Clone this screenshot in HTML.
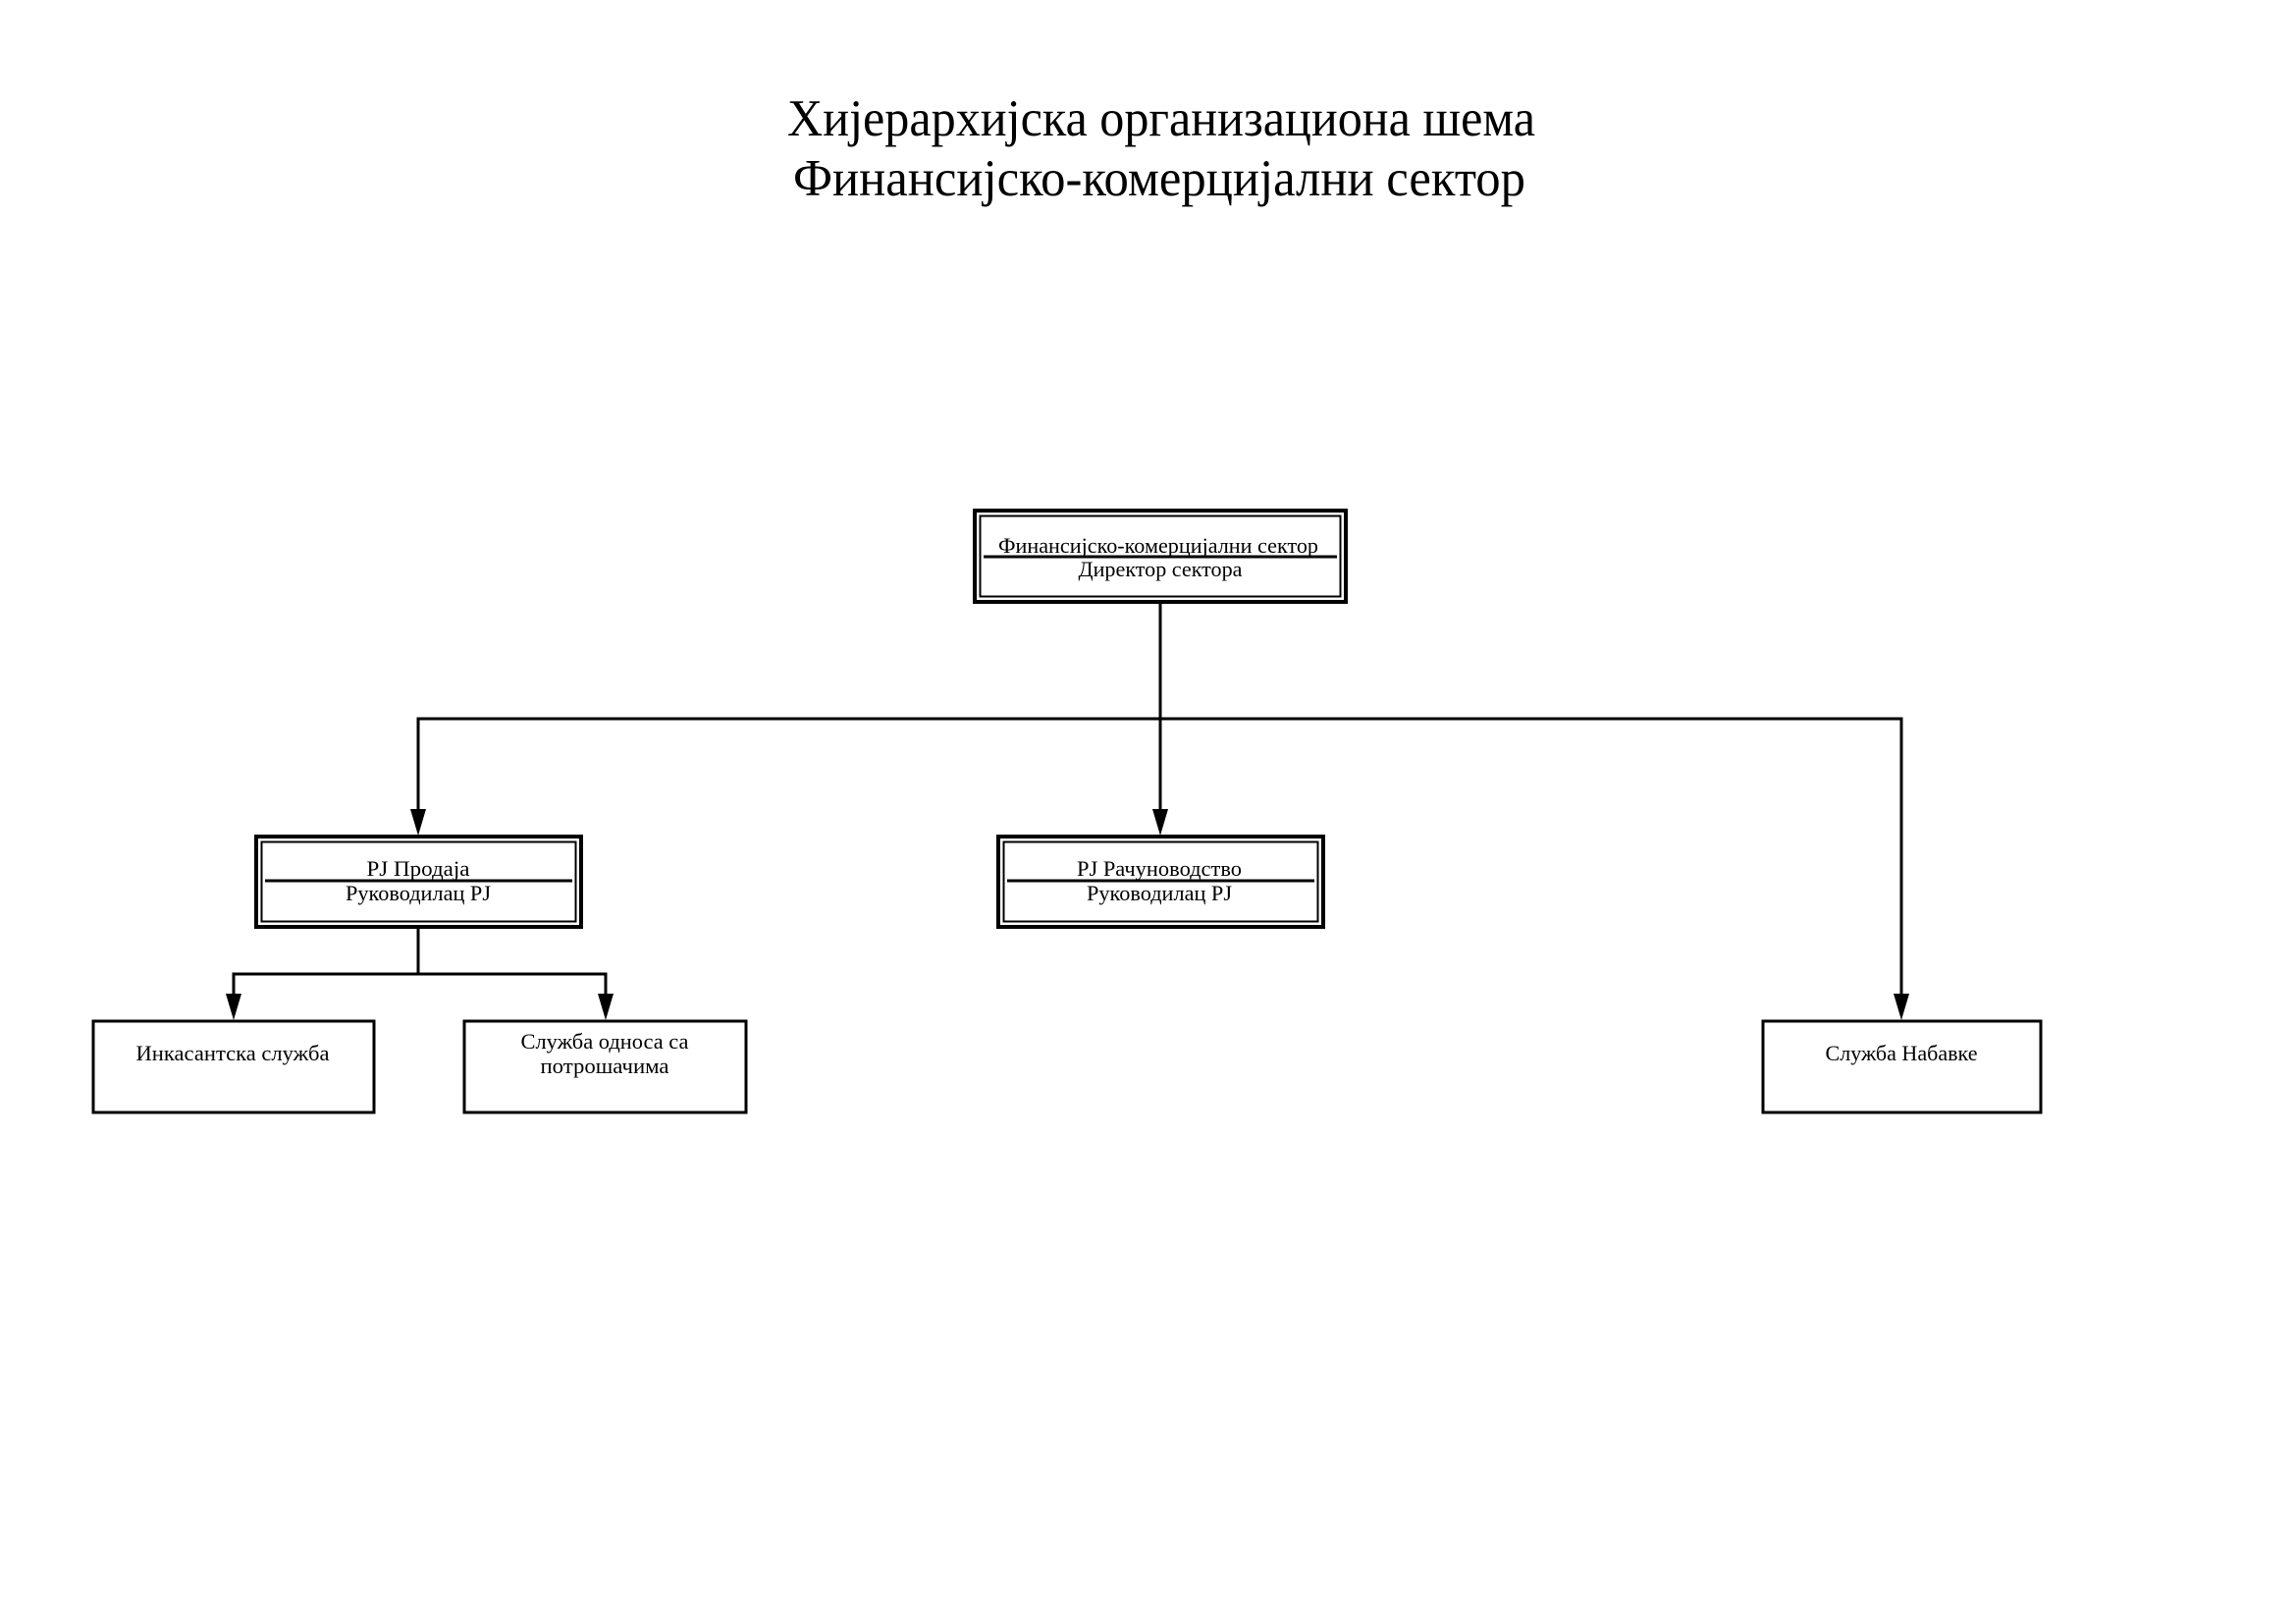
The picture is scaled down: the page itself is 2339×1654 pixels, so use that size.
<!DOCTYPE html>
<html><head><meta charset="utf-8"><style>html,body{margin:0;padding:0;background:#fff}svg{display:block}</style></head>
<body>
<svg width="2339" height="1654" viewBox="0 0 2339 1654" xmlns="http://www.w3.org/2000/svg" font-family="'Liberation Serif', 'Noto Serif CJK SC', serif" fill="#000">
<g font-size="53" text-anchor="middle">
<text x="1183" y="138" textLength="762" lengthAdjust="spacingAndGlyphs">Хијерархијска организациона шема</text>
<text x="1181" y="199" textLength="746" lengthAdjust="spacingAndGlyphs">Финансијско-комерцијални сектор</text>
</g>
<g fill="none" stroke="#000">
<rect x="993" y="520" width="378" height="93" stroke-width="4"/>
<rect x="998.5" y="525.5" width="367" height="82" stroke-width="2"/>
<line x1="1002" y1="567" x2="1362" y2="567" stroke-width="3"/>
<rect x="261" y="852" width="331" height="92" stroke-width="4"/>
<rect x="266.5" y="857.5" width="320" height="81" stroke-width="2"/>
<line x1="270" y1="897" x2="583" y2="897" stroke-width="3"/>
<rect x="1017" y="852" width="331" height="92" stroke-width="4"/>
<rect x="1022.5" y="857.5" width="320" height="81" stroke-width="2"/>
<line x1="1026" y1="897" x2="1339" y2="897" stroke-width="3"/>
<rect x="95" y="1040" width="286" height="93" stroke-width="3"/>
<rect x="473" y="1040" width="287" height="93" stroke-width="3"/>
<rect x="1796" y="1040" width="283" height="93" stroke-width="3"/>
<polyline points="1182,615 1182,826" stroke-width="3"/>
<polyline points="426,826 426,732 1937,732 1937,1013" stroke-width="3"/>
<polyline points="426,946 426,992 238,992 238,1013" stroke-width="3"/>
<polyline points="426,992 617,992 617,1013" stroke-width="3"/>
</g>
<g>
<polygon points="1174,824 1190,824 1182,851"/>
<polygon points="418,824 434,824 426,851"/>
<polygon points="1929,1012 1945,1012 1937,1039"/>
<polygon points="230,1012 246,1012 238,1039"/>
<polygon points="609,1012 625,1012 617,1039"/>
</g>
<g font-size="22" text-anchor="middle">
<text x="1180" y="563" textLength="326" lengthAdjust="spacingAndGlyphs">Финансијско-комерцијални сектор</text>
<text x="1182" y="587" textLength="167" lengthAdjust="spacingAndGlyphs">Директор сектора</text>
<text x="426" y="892" textLength="105" lengthAdjust="spacingAndGlyphs">PJ Продаја</text>
<text x="426" y="917" textLength="148" lengthAdjust="spacingAndGlyphs">Руководилац PJ</text>
<text x="1181" y="892" textLength="168" lengthAdjust="spacingAndGlyphs">PJ Рачуноводство</text>
<text x="1181" y="917" textLength="148" lengthAdjust="spacingAndGlyphs">Руководилац PJ</text>
<text x="237" y="1080" textLength="197" lengthAdjust="spacingAndGlyphs">Инкасантска служба</text>
<text x="616" y="1068" textLength="171" lengthAdjust="spacingAndGlyphs">Служба односа са</text>
<text x="616" y="1093" textLength="131" lengthAdjust="spacingAndGlyphs">потрошачима</text>
<text x="1937" y="1080" textLength="155" lengthAdjust="spacingAndGlyphs">Служба Набавке</text>
</g>
</svg>
</body></html>
